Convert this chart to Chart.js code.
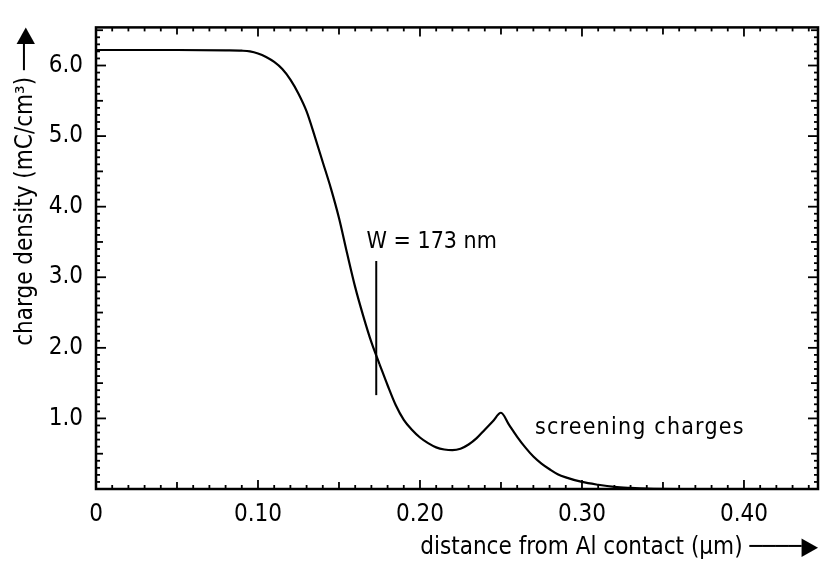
<!DOCTYPE html>
<html>
<head>
<meta charset="utf-8">
<script src="https://cdn.jsdelivr.net/npm/chart.js"></script>
<style>
  body { margin: 0; background: #fff; }
  #wrap { width: 823px; height: 564px; }
</style>
</head>
<body>
<div id="wrap"><canvas id="myChart"></canvas></div>
<script>
// distance from Al contact (um) and charge density (mC/cm3)
const distance = [0, 0.05, 0.08, 0.09, 0.095, 0.10, 0.105, 0.11, 0.115, 0.12, 0.125, 0.13, 0.135,
  0.14, 0.145, 0.15, 0.155, 0.16, 0.165, 0.17, 0.175, 0.18, 0.185, 0.19, 0.195, 0.20, 0.205,
  0.21, 0.215, 0.22, 0.225, 0.23, 0.235, 0.24, 0.245, 0.25, 0.255, 0.26, 0.265, 0.27, 0.275,
  0.28, 0.285, 0.29, 0.30, 0.31, 0.32, 0.33, 0.34, 0.36, 0.445];
const density = [6.22, 6.22, 6.215, 6.21, 6.20, 6.17, 6.12, 6.05, 5.95, 5.80, 5.60, 5.35, 5.00,
  4.63, 4.26, 3.84, 3.34, 2.86, 2.45, 2.08, 1.77, 1.47, 1.19, 0.98, 0.84, 0.73, 0.65,
  0.59, 0.56, 0.55, 0.57, 0.63, 0.72, 0.84, 0.96, 1.08, 0.91, 0.74, 0.59, 0.46, 0.36,
  0.28, 0.21, 0.165, 0.10, 0.06, 0.03, 0.015, 0.005, 0, 0];

const xTicks = [0, 0.1, 0.2, 0.3, 0.4];
const xTickLabels = ['0', '0.10', '0.20', '0.30', '0.40'];
const yTicks = [1, 2, 3, 4, 5, 6];
const yTickLabels = ['1.0', '2.0', '3.0', '4.0', '5.0', '6.0'];

const widthMark = { x: 0.173, yFrom: 1.33, yTo: 3.23, label: 'W = 173 nm', labelX: 0.167, labelY: 3.5 };
const peakNote = { label: 'screening charges', x: 0.271, y: 0.87 };

const FONT = "'DejaVu Sans Condensed', 'Liberation Sans Narrow', 'DejaVu Sans', sans-serif";

// the screening peak is a cusp, so the curve is drawn in two pieces that meet there
const peakAt = density.indexOf(Math.max(...density.slice(20)));
const pts = distance.map((d, i) => ({x: d, y: density[i]}));

// box with inward ticks on all four sides, plus the annotations
const frame = {
  id: 'frame',
  afterDatasetsDraw(chart) {
    const {ctx, chartArea: a, scales: {x, y}} = chart;
    ctx.save();
    ctx.strokeStyle = '#000';
    ctx.fillStyle = '#000';
    ctx.lineWidth = 1.8;
    const seg = (x1, y1, x2, y2) => { ctx.beginPath(); ctx.moveTo(x1, y1); ctx.lineTo(x2, y2); ctx.stroke(); };
    for (let i = 0; i <= 44; i++) {
      const px = x.getPixelForValue(i / 100);
      const len = i % 10 === 0 ? 9 : (i % 5 === 0 ? 7 : 4);
      seg(px, a.bottom, px, a.bottom - len);
      seg(px, a.top, px, a.top + len);
    }
    for (let i = 0; i <= 65; i++) {
      const py = y.getPixelForValue(i / 10);
      const len = i % 10 === 0 ? 10 : (i % 5 === 0 ? 7 : 4);
      seg(a.left, py, a.left + len, py);
      seg(a.right, py, a.right - len, py);
    }
    ctx.lineWidth = 2.5;
    ctx.strokeRect(a.left, a.top, a.right - a.left, a.bottom - a.top);

    // W marker
    ctx.lineWidth = 2;
    const wx = x.getPixelForValue(widthMark.x);
    seg(wx, y.getPixelForValue(widthMark.yFrom), wx, y.getPixelForValue(widthMark.yTo));
    ctx.font = '23px ' + FONT;
    ctx.textBaseline = 'middle';
    ctx.textAlign = 'left';
    ctx.fillText(widthMark.label, x.getPixelForValue(widthMark.labelX), y.getPixelForValue(widthMark.labelY));
    ctx.letterSpacing = '1.2px';
    ctx.fillText(peakNote.label, x.getPixelForValue(peakNote.x), y.getPixelForValue(peakNote.y));
    ctx.restore();
  }
};

const lineStyle = {
  showLine: true,
  borderColor: '#000',
  borderWidth: 2.2,
  pointRadius: 0,
  cubicInterpolationMode: 'monotone',
  fill: false
};

const ctx = document.getElementById('myChart').getContext('2d');
const chart = new Chart(ctx, {
  type: 'scatter',
  data: {
    datasets: [
      Object.assign({ data: pts.slice(0, peakAt + 1) }, lineStyle),
      Object.assign({ data: pts.slice(peakAt) }, lineStyle)
    ]
  },
  options: {
    responsive: true,
    maintainAspectRatio: false,
    animation: false,
    layout: { padding: { top: 14, right: 5, left: 0, bottom: 0 } },
    plugins: { legend: { display: false }, tooltip: { enabled: false } },
    scales: {
      x: {
        type: 'linear',
        min: 0,
        max: 0.4457,
        afterFit: s => { s.height = 75; },
        afterBuildTicks: s => { s.ticks = xTicks.map(v => ({value: v})); },
        grid: { display: false, drawTicks: false },
        border: { display: false },
        ticks: {
          padding: 11,
          color: '#000',
          font: { family: FONT, size: 24 },
          maxRotation: 0,
          autoSkip: false,
          callback: (v, i) => xTickLabels[i]
        },
        title: {
          display: true,
          text: 'distance from Al contact (µm) ────▶',
          align: 'end',
          color: '#000',
          font: { family: FONT, size: 24 },
          padding: { top: 0, bottom: 2 }
        }
      },
      y: {
        type: 'linear',
        min: 0,
        max: 6.54,
        afterFit: s => { s.width = 96; },
        afterBuildTicks: s => { s.ticks = yTicks.map(v => ({value: v})); },
        grid: { display: false, drawTicks: false },
        border: { display: false },
        ticks: {
          padding: 13,
          color: '#000',
          font: { family: FONT, size: 24 },
          autoSkip: false,
          callback: (v, i) => yTickLabels[i]
        },
        title: {
          display: true,
          text: 'charge density (mC/cm³) ──▶',
          align: 'end',
          color: '#000',
          font: { family: FONT, size: 24 },
          padding: { top: 11, bottom: 0 }
        }
      }
    }
  },
  plugins: [frame]
});
</script>
</body>
</html>
